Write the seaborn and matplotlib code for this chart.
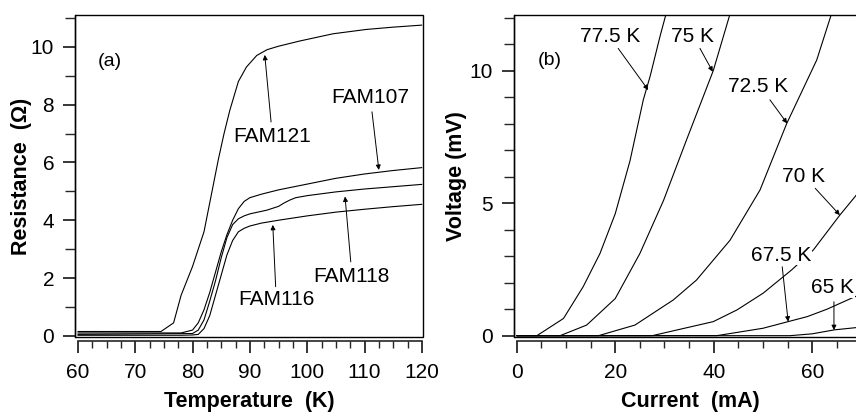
import numpy as np
import pandas as pd
import matplotlib
matplotlib.use("Agg")
import matplotlib.pyplot as plt
import seaborn as sns
from matplotlib.patches import Rectangle
from matplotlib.ticker import MultipleLocator

# ---- panel (a): resistance vs temperature ----
fam121_t = [60, 70, 74.5, 76.7, 78, 80, 82, 83, 84.5, 85.5, 86.5, 88, 89.4, 91.2, 93, 95, 98.7, 104.5, 110.3, 115, 120]
fam121_r = [0.15, 0.15, 0.15, 0.45, 1.4, 2.4, 3.6, 4.6, 6.1, 7.0, 7.8, 8.8, 9.3, 9.7, 9.9, 10.02, 10.2, 10.45, 10.6, 10.68, 10.75]

fam107_t = [60, 78, 80, 81, 82, 83, 84, 85, 86, 87, 88, 89, 90, 92, 95, 100, 105, 110, 115, 120]
fam107_r = [0.1, 0.1, 0.2, 0.45, 0.9, 1.5, 2.2, 2.9, 3.5, 4.0, 4.4, 4.65, 4.78, 4.9, 5.05, 5.25, 5.45, 5.6, 5.72, 5.82]

fam118_t = [60, 80, 81, 82, 83, 84, 85, 86, 87, 88, 89, 90, 93, 95, 96, 97, 98, 100, 105, 110, 115, 120]
fam118_r = [0.05, 0.08, 0.2, 0.55, 1.2, 1.9, 2.7, 3.4, 3.85, 4.05, 4.15, 4.22, 4.35, 4.48, 4.6, 4.7, 4.78, 4.85, 4.98, 5.08, 5.16, 5.24]

fam116_t = [60, 78, 80, 81, 82, 83, 84, 85, 86, 87, 88, 89, 90, 92, 95, 100, 105, 110, 115, 120]
fam116_r = [0.02, 0.02, 0.03, 0.05, 0.25, 0.7, 1.4, 2.1, 2.8, 3.3, 3.6, 3.72, 3.8, 3.9, 4.0, 4.15, 4.28, 4.38, 4.47, 4.55]

samples = ["FAM121", "FAM107", "FAM118", "FAM116"]
# label centre, arrow start, arrow tip
labels_a = [(93.9, 6.9), (111.0, 8.24), (107.8, 2.04), (94.7, 1.25)]
arrow_from_a = [(93.7, 7.4), (111.3, 7.75), (107.6, 2.56), (94.5, 1.7)]
arrow_to_a = [(92.6, 9.72), (112.5, 5.74), (106.6, 4.82), (94.0, 3.84)]

# ---- panel (b): voltage vs current ----
i775 = [0, 4.1, 9.5, 13.5, 16.9, 20, 23, 25.7, 27.1, 29.1, 30.4]
v775 = [0, 0, 0.65, 1.85, 3.1, 4.6, 6.6, 8.9, 9.8, 11.3, 12.2]
i75 = [0, 8.8, 14.2, 20, 25, 29.8, 34.5, 39.9, 43.4]
v75 = [0, 0, 0.4, 1.4, 3.1, 5.1, 7.4, 10.0, 12.2]
i725 = [0, 16.6, 24, 31.8, 36.5, 43.3, 49.4, 54.8, 60.9, 64.0]
v725 = [0, 0, 0.4, 1.35, 2.1, 3.6, 5.5, 8.0, 10.4, 12.2]
i70 = [0, 27.5, 39.9, 44.7, 50, 55.8, 60.2, 65.6, 68.7, 71]
v70 = [0, 0, 0.53, 0.97, 1.6, 2.48, 3.23, 4.55, 5.25, 5.8]
i675 = [0, 40.6, 50, 55.1, 59, 63, 67.8, 71]
v675 = [0, 0, 0.28, 0.53, 0.72, 1.0, 1.4, 1.65]
i65 = [0, 55.5, 60, 64.5, 68.7, 71]
v65 = [0, 0, 0.07, 0.22, 0.3, 0.36]

temps = ["77.5 K", "75 K", "72.5 K", "70 K", "67.5 K", "65 K"]
labels_b = [(18.9, 11.3), (35.7, 11.3), (49.1, 9.4), (58.3, 6.0), (53.6, 3.04), (64.1, 1.82)]
arrow_from_b = [(20.6, 10.84), (37.2, 10.84), (51.4, 8.9), (60.6, 5.56), (53.9, 2.6), (64.4, 1.28)]
arrow_to_b = [(26.7, 9.27), (39.8, 9.96), (54.9, 8.01), (65.6, 4.55), (55.1, 0.53), (64.4, 0.21)]

df_a = pd.concat([
    pd.DataFrame({"T": t, "R": r, "sample": s})
    for t, r, s in zip([fam121_t, fam107_t, fam118_t, fam116_t],
                       [fam121_r, fam107_r, fam118_r, fam116_r], samples)
])
df_b = pd.concat([
    pd.DataFrame({"I": i, "V": v, "temp": s})
    for i, v, s in zip([i775, i75, i725, i70, i675, i65],
                       [v775, v75, v725, v70, v675, v65], temps)
])

sns.set_theme(style="ticks")
plt.rcParams['font.family'] = ['Liberation Sans', 'DejaVu Sans']
plt.rcParams['axes.linewidth'] = 1.0
plt.rcParams['text.color'] = 'black'
plt.rcParams['axes.labelcolor'] = 'black'

fig = plt.figure(figsize=(8.56, 4.12), dpi=100)
W, H = 856, 412
ax1 = fig.add_axes([75 / W, 1 - 337 / H, 348 / W, 322 / H])
ax2 = fig.add_axes([514 / W, 1 - 337 / H, 350 / W, 322 / H])

sns.lineplot(data=df_a, x="T", y="R", units="sample", estimator=None,
             color="black", lw=0.8, ax=ax1)
sns.lineplot(data=df_b, x="I", y="V", units="temp", estimator=None,
             color="black", lw=0.8, ax=ax2)

ax1.set_xlim(59.5, 120.2)
ax1.set_ylim(-0.04, 11.1)
ax2.set_xlim(-0.55, 70.5)
ax2.set_ylim(-0.05, 12.1)

ax1.xaxis.set_major_locator(MultipleLocator(10))
ax1.xaxis.set_minor_locator(MultipleLocator(2.5))
ax1.yaxis.set_major_locator(MultipleLocator(2))
ax1.yaxis.set_minor_locator(MultipleLocator(1))
ax2.xaxis.set_major_locator(MultipleLocator(20))
ax2.xaxis.set_minor_locator(MultipleLocator(5))
ax2.yaxis.set_major_locator(MultipleLocator(5))
ax2.yaxis.set_minor_locator(MultipleLocator(1))

for ax, xb in [(ax1, (60, 120)), (ax2, (0, 70.5))]:
    ax.spines['top'].set_visible(False)
    ax.spines['right'].set_visible(False)
    ax.spines['bottom'].set_position(('outward', 3))
    ax.spines['bottom'].set_bounds(*xb)
    ax.spines['bottom'].set_linewidth(1.2)
    ax.add_patch(Rectangle((0, 0), 1, 1, transform=ax.transAxes, fill=False,
                           lw=1.0, edgecolor="black", clip_on=False, zorder=5))
    ax.tick_params(axis='x', which='major', length=8.5, width=1.1, direction='out',
                   pad=7.5, labelsize=15, colors='black')
    ax.tick_params(axis='x', which='minor', length=5, width=1.0, direction='out')
    ax.tick_params(axis='y', which='major', length=8.5, width=1.1, direction='out',
                   pad=6.5, labelsize=15, colors='black')
    ax.tick_params(axis='y', which='minor', length=7, width=1.0, direction='out')

ax1.set_xlabel("Temperature  (K)", fontsize=15.5, fontweight='bold')
ax1.set_ylabel("Resistance  (Ω)", fontsize=15.5, fontweight='bold')
ax1.xaxis.set_label_coords(0.5, -0.168)
ax1.yaxis.set_label_coords(-0.124, 0.5)
ax2.set_xlabel("Current  (mA)", fontsize=15.5, fontweight='bold')
ax2.set_ylabel("Voltage (mV)", fontsize=15.5, fontweight='bold')
ax2.xaxis.set_label_coords(0.503, -0.168)
ax2.yaxis.set_label_coords(-0.134, 0.5)

ax1.text(63.5, 9.5, "(a)", fontsize=14, va='center', ha='left')
ax2.text(4.2, 10.37, "(b)", fontsize=14, va='center', ha='left')

arrow_style = dict(arrowstyle='-|>', color='black', lw=0.7, mutation_scale=7,
                   shrinkA=0, shrinkB=0)
for ax, names, pos, a0, a1 in [(ax1, samples, labels_a, arrow_from_a, arrow_to_a),
                               (ax2, temps, labels_b, arrow_from_b, arrow_to_b)]:
    for name, p, s, e in zip(names, pos, a0, a1):
        ax.text(p[0], p[1], name, fontsize=15, ha='center', va='center', zorder=4,
                bbox=dict(facecolor='white', edgecolor='none', pad=0.5))
        ax.annotate("", xy=e, xytext=s, arrowprops=arrow_style, zorder=4)

fig.savefig("out.png", dpi=100)
